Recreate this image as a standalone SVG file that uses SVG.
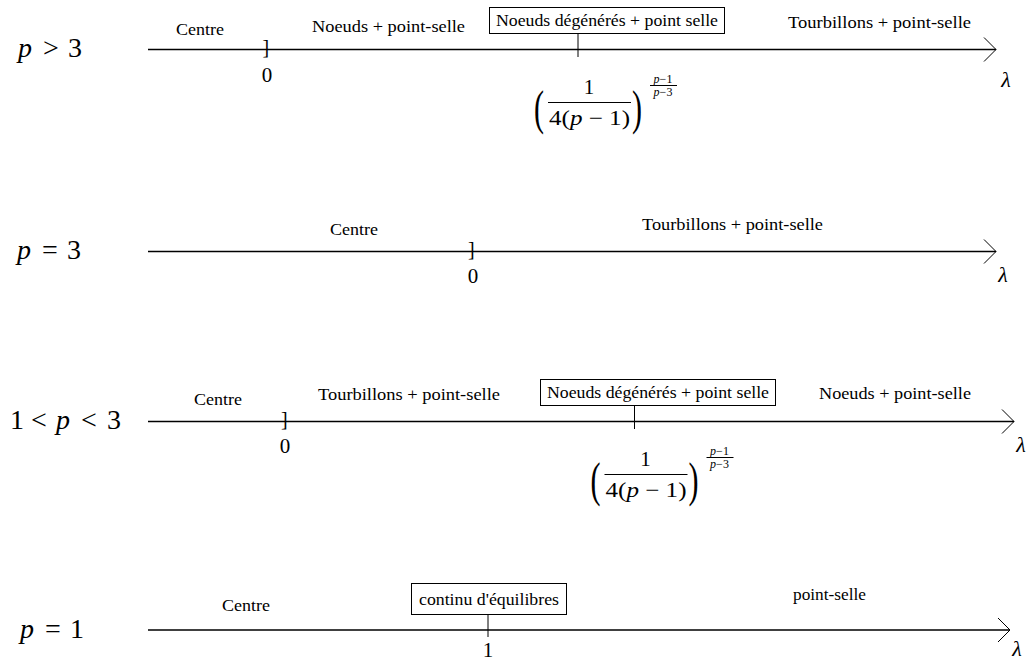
<svg xmlns="http://www.w3.org/2000/svg" width="1027" height="662" viewBox="0 0 1027 662" font-family="'Liberation Serif', 'DejaVu Serif', serif">
<defs>
<style>
text{font-family:'Liberation Serif','DejaVu Serif',serif;fill:#000}
.lbl{font-size:16px}
.math{font-size:28px}
.it{font-style:italic}
.num{font-size:21px}
.brk{font-size:20px}
.par{font-size:30px}
.fr{font-size:21px}
.ex{font-size:12px}
.lam{font-size:22px;font-style:italic}
.axis{stroke:#000;stroke-width:1.3;fill:none;marker-end:url(#arr)}
.tick{stroke:#000;stroke-width:1}
.bar{stroke:#000;stroke-width:1}
.box{fill:#fff;stroke:#000;stroke-width:1}
</style>
<marker id="arr" markerUnits="userSpaceOnUse" markerWidth="16" markerHeight="26" refX="13" refY="12" orient="auto" overflow="visible">
<path d="M1,0 L13,12 L1,24" fill="none" stroke="#000" stroke-width="1"/>
</marker>
<g id="formula">
<text class="par" transform="translate(534,124) scale(1,1.6)">(</text>
<text class="fr" x="589" y="94" text-anchor="middle">1</text>
<line class="bar" x1="548" y1="102.5" x2="631" y2="102.5"/>
<text class="fr" x="549" y="125" textLength="81" lengthAdjust="spacingAndGlyphs">4(<tspan class="it">p</tspan> − 1)</text>
<text class="par" transform="translate(632,124) scale(1,1.6)">)</text>
<text class="ex" x="663" y="83" text-anchor="middle"><tspan class="it">p</tspan>−1</text>
<line class="bar" x1="650" y1="85.5" x2="677" y2="85.5"/>
<text class="ex" x="663" y="96" text-anchor="middle"><tspan class="it">p</tspan>−3</text>
</g>
</defs>
<rect width="1027" height="662" fill="#fff"/>

<g id="connectors">
<line class="axis" x1="148" y1="49.5" x2="996" y2="49.5"/>
<line class="axis" x1="148" y1="251.5" x2="996" y2="251.5"/>
<line class="axis" x1="148" y1="421.5" x2="1014" y2="421.5"/>
<line class="axis" x1="148" y1="630" x2="1010" y2="630"/>
<line class="tick" x1="578" y1="33" x2="578" y2="57"/>
<line class="tick" x1="634.5" y1="405" x2="634.5" y2="429"/>
<line class="tick" x1="488" y1="614" x2="488" y2="637"/>
</g>

<g id="row-p-gt-3">
<text class="math"><tspan class="it" x="18" y="57">p</tspan><tspan x="43" y="57">&gt;</tspan><tspan x="68" y="57">3</tspan></text>
<text class="lbl" x="176" y="35" textLength="48" lengthAdjust="spacingAndGlyphs">Centre</text>
<text class="lbl" x="312" y="32" textLength="153" lengthAdjust="spacingAndGlyphs">Noeuds + point-selle</text>
<rect class="box" x="489.5" y="7.5" width="235" height="26"/>
<text class="lbl" x="496" y="26" textLength="222" lengthAdjust="spacingAndGlyphs">Noeuds dégénérés + point selle</text>
<text class="lbl" x="788" y="28" textLength="183" lengthAdjust="spacingAndGlyphs">Tourbillons + point-selle</text>
<text class="brk" x="262.5" y="54">]</text>
<text class="num" x="267" y="82" text-anchor="middle">0</text>
<use href="#formula"/>
<text class="lam" x="1006" y="87" text-anchor="middle">λ</text>
</g>

<g id="row-p-eq-3">
<text class="math"><tspan class="it" x="17" y="259">p</tspan><tspan x="42" y="259">=</tspan><tspan x="67" y="259">3</tspan></text>
<text class="lbl" x="330" y="235" textLength="48" lengthAdjust="spacingAndGlyphs">Centre</text>
<text class="lbl" x="642" y="230" textLength="181" lengthAdjust="spacingAndGlyphs">Tourbillons + point-selle</text>
<text class="brk" x="468" y="256">]</text>
<text class="num" x="473" y="283" text-anchor="middle">0</text>
<text class="lam" x="1003" y="282" text-anchor="middle">λ</text>
</g>

<g id="row-1-lt-p-lt-3">
<text class="math"><tspan x="10" y="429">1</tspan><tspan x="31" y="429">&lt;</tspan><tspan class="it" x="56" y="429">p</tspan><tspan x="81" y="429">&lt;</tspan><tspan x="107" y="429">3</tspan></text>
<text class="lbl" x="194" y="405" textLength="48" lengthAdjust="spacingAndGlyphs">Centre</text>
<text class="lbl" x="318" y="400" textLength="182" lengthAdjust="spacingAndGlyphs">Tourbillons + point-selle</text>
<rect class="box" x="540.5" y="379.5" width="235" height="26"/>
<text class="lbl" x="547" y="398" textLength="222" lengthAdjust="spacingAndGlyphs">Noeuds dégénérés + point selle</text>
<text class="lbl" x="819" y="399" textLength="152" lengthAdjust="spacingAndGlyphs">Noeuds + point-selle</text>
<text class="brk" x="281" y="426">]</text>
<text class="num" x="285" y="453" text-anchor="middle">0</text>
<use href="#formula" transform="translate(56.5,372)"/>
<text class="lam" x="1021" y="452" text-anchor="middle">λ</text>
</g>

<g id="row-p-eq-1">
<text class="math"><tspan class="it" x="20" y="638">p</tspan><tspan x="45" y="638">=</tspan><tspan x="70" y="638">1</tspan></text>
<text class="lbl" x="222" y="611" textLength="48" lengthAdjust="spacingAndGlyphs">Centre</text>
<rect class="box" x="411.5" y="583.5" width="155" height="31"/>
<text class="lbl" x="419" y="605" textLength="140" lengthAdjust="spacingAndGlyphs">continu d'équilibres</text>
<text class="lbl" x="793" y="600" textLength="73" lengthAdjust="spacingAndGlyphs">point-selle</text>
<text class="num" x="488" y="657" text-anchor="middle">1</text>
<text class="lam" x="1017" y="656" text-anchor="middle">λ</text>
</g>
</svg>
